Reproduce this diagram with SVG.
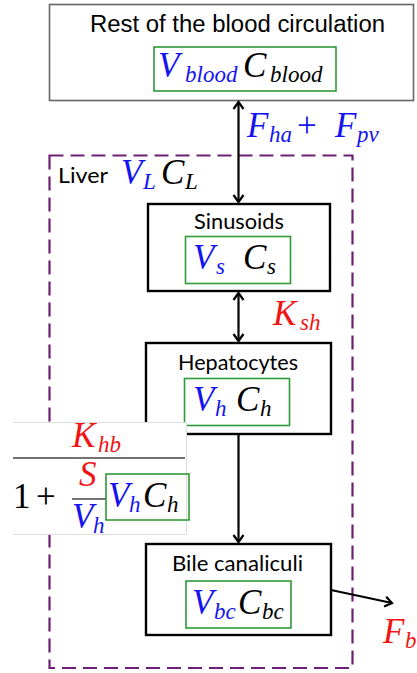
<svg xmlns="http://www.w3.org/2000/svg" width="417" height="673" viewBox="0 0 417 673">
<style>
.lbl{font-family:Lato,"Open Sans",sans-serif;font-size:22px;fill:#000}
.title{font-family:"Liberation Sans",Arial,sans-serif;font-size:23px;fill:#000}
.m{font-family:"Liberation Serif","Times New Roman",serif;font-style:italic;font-size:35px}
.r{font-family:"Liberation Serif","Times New Roman",serif;font-style:normal;font-size:35px}
.s{font-size:23px}
.b{fill:#1414f0}
.k{fill:#000}
.red{fill:#f01414}
.node{fill:#fff;stroke:#000;stroke-width:2.4}
.gbox{fill:none;stroke:#2e9a35;stroke-width:1.6}
.conn{stroke:#000;stroke-width:2.2;fill:none}
</style>
<defs>
<marker id="ah" viewBox="-9 -7 11 14" refX="0" refY="0" markerWidth="11" markerHeight="14" markerUnits="userSpaceOnUse" orient="auto-start-reverse">
<path d="M-7,-5 L0,0 L-7,5" fill="none" stroke="#000" stroke-width="2.2"/>
</marker>
</defs>
<rect width="417" height="673" fill="#fff"/>

<g id="blood">
<rect x="49.5" y="4.5" width="364" height="96" fill="#fff" stroke="#666" stroke-width="1.6"/>
<text class="title" x="90" y="32" textLength="295" lengthAdjust="spacingAndGlyphs">Rest of the blood circulation</text>
<rect class="gbox" x="154" y="47" width="182" height="44"/>
<text class="m" y="77"><tspan class="b" x="158">V</tspan><tspan class="b s" x="185" dy="5">blood</tspan><tspan class="k" x="243" dy="-5">C</tspan><tspan class="k s" x="270" dy="5">blood</tspan></text>
</g>

<g id="liver">
<rect x="49.5" y="155.5" width="303" height="512.5" fill="none" stroke="#6e1e76" stroke-width="2.2" stroke-dasharray="14 7"/>
<text class="lbl" x="58" y="183" textLength="50" lengthAdjust="spacingAndGlyphs">Liver</text>
<text class="m" y="184"><tspan class="b" x="121">V</tspan><tspan class="b s" x="143" dy="5">L</tspan><tspan class="k" x="161" dy="-5">C</tspan><tspan class="k s" x="185" dy="5">L</tspan></text>
</g>

<g id="connectors">
<line class="conn" x1="238.5" y1="102" x2="238.5" y2="202" marker-start="url(#ah)" marker-end="url(#ah)"/>
<line class="conn" x1="238.5" y1="293" x2="238.5" y2="341" marker-start="url(#ah)" marker-end="url(#ah)"/>
<line class="conn" x1="238.5" y1="435" x2="238.5" y2="542" marker-end="url(#ah)"/>
<line class="conn" x1="331" y1="590" x2="392" y2="603" marker-end="url(#ah)"/>
</g>

<g id="flow-labels">
<text class="m b" y="137"><tspan x="247">F</tspan><tspan class="s" x="269" dy="5">ha</tspan><tspan class="r" x="297" dy="-5">+</tspan><tspan x="335">F</tspan><tspan class="s" x="357" dy="5">pv</tspan></text>
<text class="m red" y="325"><tspan x="273">K</tspan><tspan class="s" x="300" dy="5">sh</tspan></text>
<text class="m red" y="643"><tspan x="383">F</tspan><tspan class="s" x="405" dy="5">b</tspan></text>
</g>

<g id="sinusoids">
<rect class="node" x="148" y="204" width="182" height="87"/>
<text class="lbl" x="194" y="229" textLength="90" lengthAdjust="spacingAndGlyphs">Sinusoids</text>
<rect class="gbox" x="185.5" y="236.5" width="105" height="47"/>
<text class="m" y="269"><tspan class="b" x="193">V</tspan><tspan class="b s" x="216" dy="5">s</tspan><tspan class="k" x="243" dy="-5">C</tspan><tspan class="k s" x="267" dy="5">s</tspan></text>
</g>

<g id="hepatocytes">
<rect class="node" x="146" y="343" width="185" height="91"/>
<text class="lbl" x="178" y="370" textLength="120" lengthAdjust="spacingAndGlyphs">Hepatocytes</text>
<rect class="gbox" x="184.5" y="378.5" width="105" height="47"/>
<text class="m" y="411"><tspan class="b" x="193">V</tspan><tspan class="b s" x="215" dy="5">h</tspan><tspan class="k" x="236" dy="-5">C</tspan><tspan class="k s" x="260" dy="5">h</tspan></text>
</g>

<g id="formula">
<path d="M13,422.5 H186.5 V534.5 H13" fill="#fff" stroke="#ddd" stroke-width="1"/>
<text class="m red" y="447"><tspan x="72">K</tspan><tspan class="s" x="98" dy="5">hb</tspan></text>
<line x1="13" y1="458" x2="185" y2="458" stroke="#444" stroke-width="1.4"/>
<text class="r k" x="13" y="508">1</text>
<text class="r k" x="36" y="508">+</text>
<text class="m red" x="79" y="486">S</text>
<line x1="72" y1="499" x2="106" y2="499" stroke="#444" stroke-width="1.4"/>
<text class="m b" y="528"><tspan x="72">V</tspan><tspan class="s" x="93" dy="5">h</tspan></text>
<rect class="gbox" x="106" y="474" width="83" height="46"/>
<text class="m" y="507"><tspan class="b" x="108">V</tspan><tspan class="b s" x="129" dy="5">h</tspan><tspan class="k" x="143" dy="-5">C</tspan><tspan class="k s" x="167" dy="5">h</tspan></text>
</g>

<g id="bile">
<rect class="node" x="146" y="544" width="185" height="91"/>
<text class="lbl" x="172" y="571" textLength="131" lengthAdjust="spacingAndGlyphs">Bile canaliculi</text>
<rect class="gbox" x="186" y="581" width="105" height="47"/>
<text class="m" y="614"><tspan class="b" x="192">V</tspan><tspan class="b s" x="214" dy="5">bc</tspan><tspan class="k" x="238" dy="-5">C</tspan><tspan class="k s" x="262" dy="5">bc</tspan></text>
</g>
</svg>
